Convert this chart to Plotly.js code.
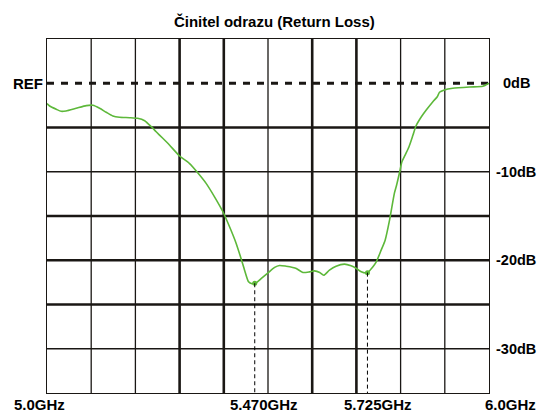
<!DOCTYPE html>
<html>
<head>
<meta charset="utf-8">
<script src="https://cdn.plot.ly/plotly-3.0.1.min.js"></script>
<style>html,body{margin:0;padding:0;background:#fff}#chart{width:539px;height:412px}</style>
</head>
<body>
<div id="chart"></div>
<script>
// Return loss curve (GHz, dB)
const freqGHz = [5.000,5.006,5.021,5.032,5.043,5.066,5.089,5.104,5.119,5.134,5.149,5.164,5.187,5.205,5.221,5.236,5.247,5.262,5.277,5.300,5.322,5.341,5.360,5.379,5.398,5.413,5.428,5.439,5.447,5.456,5.462,5.473,5.485,5.500,5.515,5.526,5.541,5.556,5.564,5.579,5.594,5.605,5.617,5.626,5.639,5.654,5.673,5.688,5.700,5.711,5.722,5.727,5.737,5.745,5.756,5.765,5.775,5.786,5.791,5.798,5.803,5.811,5.819,5.828,5.835,5.847,5.858,5.873,5.883,5.888,5.899,5.918,5.956,5.986,6.000];
const returnLossDb = [-2.3,-2.57,-2.94,-3.17,-3.13,-2.83,-2.53,-2.49,-2.83,-3.28,-3.70,-3.85,-3.89,-3.96,-4.23,-4.91,-5.48,-6.22,-6.98,-8.22,-9.05,-10.11,-11.31,-12.83,-14.52,-16.22,-18.10,-19.80,-21.12,-22.44,-22.62,-22.56,-22.06,-21.43,-20.81,-20.59,-20.67,-20.81,-20.93,-21.38,-21.31,-21.20,-21.38,-21.69,-21.12,-20.67,-20.44,-20.63,-20.93,-21.31,-21.43,-21.31,-20.75,-20.18,-18.86,-17.73,-15.46,-12.41,-11.50,-10.00,-8.87,-8.03,-7.17,-5.85,-4.80,-3.78,-3.02,-2.08,-1.52,-1.02,-0.76,-0.57,-0.42,-0.34,0.0];

// Markers
const markerFreqs = [5.47, 5.725];
const markerDb = [-22.6, -21.4];
const markerLabels = ["5.470GHz", "5.725GHz"];

// Axis labels
const edgeFreqs = [5.0, 6.0];
const edgeLabels = ["5.0GHz", "6.0GHz"];
const dbTickVals = [0, -10, -20, -30];
const dbTickText = ["0dB", "-10dB", "-20dB", "-30dB"];
const refLabel = "REF";
const titleText = "Činitel odrazu (Return Loss)";

// Grid
const xGridThin = [5.1, 5.2, 5.5, 5.8, 5.9];
const xGridThick = [5.3, 5.4, 5.6, 5.7];
const yGridThin = [-10, -30];
const yGridThick = [-5, -15, -20, -25];

const gridColor = '#1a1714';
const font = 'Liberation Sans, Arial, sans-serif';
const shapes = [];
xGridThin.forEach(v => shapes.push({type:'line', xref:'x', yref:'paper', x0:v, x1:v, y0:0, y1:1, layer:'below', line:{color:gridColor, width:1.3}}));
xGridThick.forEach(v => shapes.push({type:'line', xref:'x', yref:'paper', x0:v, x1:v, y0:0, y1:1, layer:'below', line:{color:gridColor, width:2.6}}));
yGridThin.forEach(v => shapes.push({type:'line', xref:'paper', yref:'y', x0:0, x1:1, y0:v, y1:v, layer:'below', line:{color:gridColor, width:1.3}}));
yGridThick.forEach(v => shapes.push({type:'line', xref:'paper', yref:'y', x0:0, x1:1, y0:v, y1:v, layer:'below', line:{color:gridColor, width:2.6}}));
// REF line
shapes.push({type:'line', xref:'paper', yref:'y', x0:0, x1:1, y0:0, y1:0, layer:'below', line:{color:gridColor, width:3, dash:'7px,7px'}});
// marker drop lines
markerFreqs.forEach((f,i) => shapes.push({type:'line', xref:'x', yref:'y', x0:f, x1:f, y0:markerDb[i], y1:-35, layer:'above', line:{color:'#000', width:1, dash:'4px,3px'}}));

const annotations = [];
const lab = (text, xref, x, yref, y, size, extra) => Object.assign({text, xref, x, yref, y, showarrow:false, font:{family:font, size, color:'#000'}, xanchor:'center', yanchor:'middle', borderpad:0}, extra||{});
annotations.push(lab('<b>'+edgeLabels[0]+'</b>', 'x', edgeFreqs[0], 'paper', 0, 15, {yshift:-11.5, xshift:-8}));
annotations.push(lab('<b>'+edgeLabels[1]+'</b>', 'x', edgeFreqs[1], 'paper', 0, 15, {yshift:-11.5, xshift:21}));
markerFreqs.forEach((f,i) => annotations.push(lab('<b>'+markerLabels[i]+'</b>', 'x', f, 'paper', 0, 15, {yshift:-11.5, xshift:9 + i*2})));
dbTickVals.forEach((v,i) => annotations.push(lab('<b>'+dbTickText[i]+'</b>', 'paper', 1, 'y', v, 14.5, {xshift:27})));
annotations.push(lab('<b>'+refLabel+'</b>', 'paper', 0, 'y', 0, 15, {xshift:-19.5}));

const traces = [
  {x:freqGHz, y:returnLossDb, type:'scatter', mode:'lines', line:{color:'#5db83a', width:1.6, shape:'spline', smoothing:0.6}, hoverinfo:'skip'},
  {x:markerFreqs, y:markerDb, type:'scatter', mode:'markers', marker:{color:'#5db83a', size:5}, hoverinfo:'skip'}
];

const layout = {
  width:539, height:412,
  margin:{l:47, r:50, t:39, b:19, pad:0},
  paper_bgcolor:'#fff', plot_bgcolor:'#fff',
  showlegend:false,
  title:{text:'<b>'+titleText+'</b>', font:{family:font, size:15, color:'#000'}, x:0.509, xanchor:'center', y:0.948, yanchor:'middle'},
  xaxis:{range:[5,6], showgrid:false, zeroline:false, showticklabels:false, ticks:'', showline:true, mirror:true, linecolor:gridColor, linewidth:1.3, fixedrange:true},
  yaxis:{range:[-35,5], showgrid:false, zeroline:false, showticklabels:false, ticks:'', showline:true, mirror:true, linecolor:gridColor, linewidth:1.3, fixedrange:true},
  shapes, annotations
};
Plotly.newPlot('chart', traces, layout, {displayModeBar:false, staticPlot:true});
</script>
</body>
</html>
